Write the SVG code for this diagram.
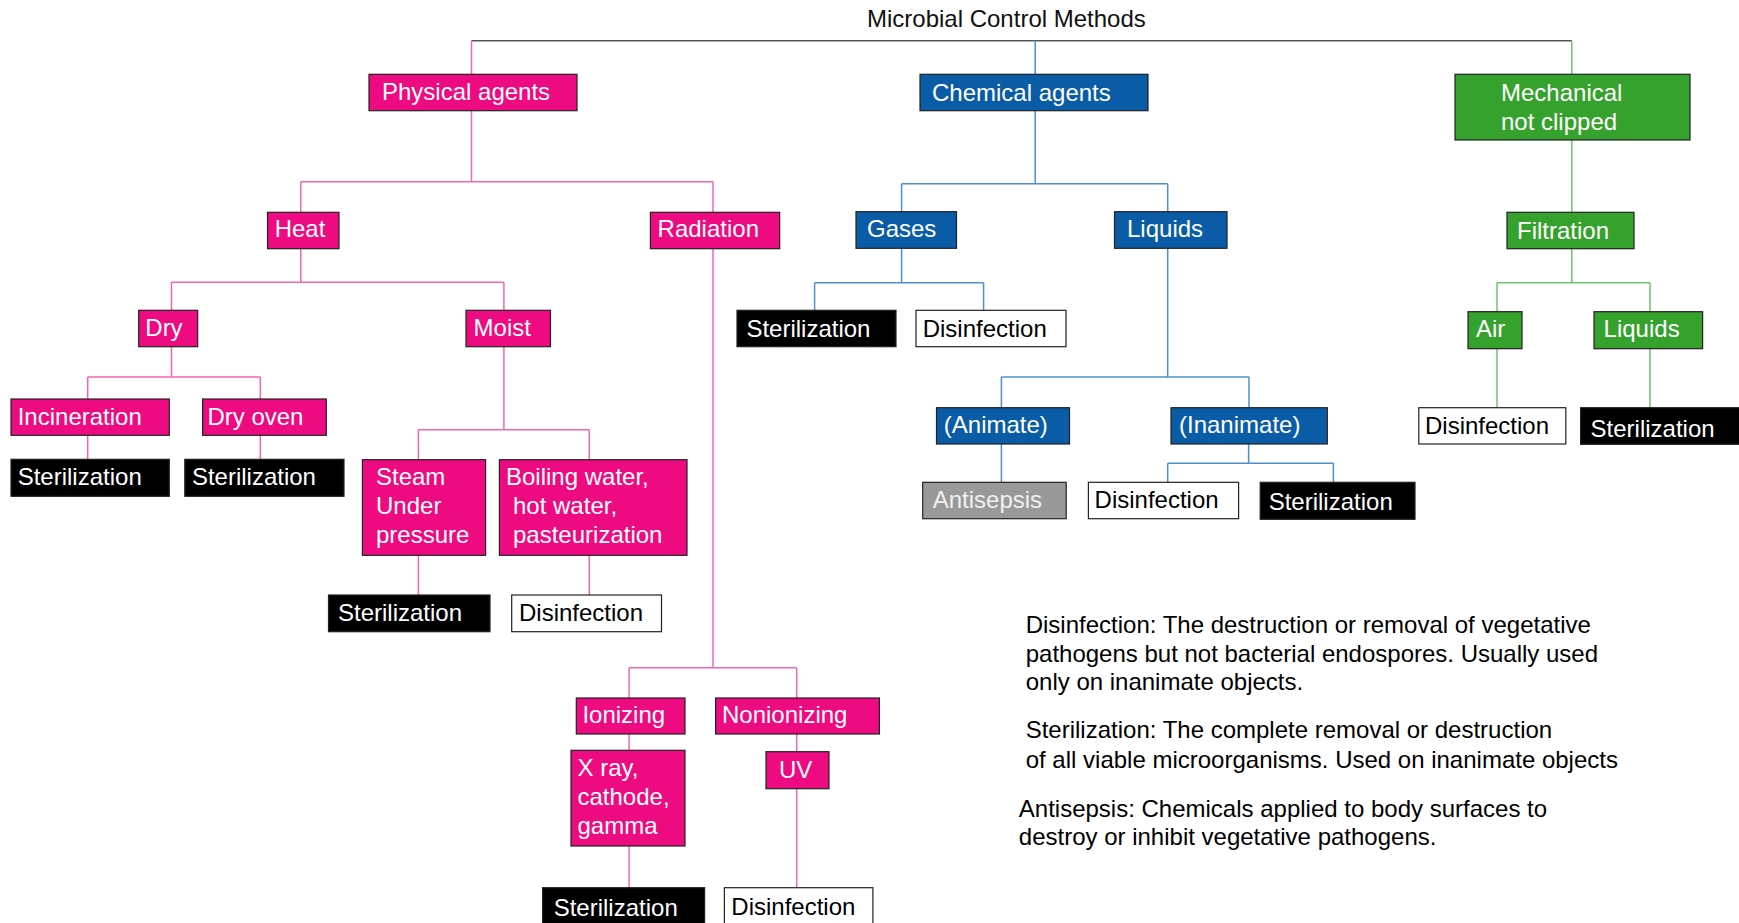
<svg xmlns="http://www.w3.org/2000/svg" width="1739" height="923" viewBox="0 0 1739 923">
<style>
text{font-family:"Liberation Sans",Arial,sans-serif;font-size:24px}
.n rect{stroke:#222;stroke-width:1.2}
.m rect{fill:#EE0A80}
.b rect{fill:#0B5CA6}
.g rect{fill:#36A22E}
.k rect{fill:#000}
.w rect{fill:#fff}
.y rect{fill:#999}
.m text,.b text,.g text,.k text{fill:#fff}
.y text{fill:#f0f0f0}
.w text{fill:#000}
#connectors path{fill:none;stroke-width:1.5}
.cp{stroke:#F068B0}
.cb{stroke:#4C8FCF}
.cg{stroke:#6CC66C}
.ct{stroke:#555}
.def{fill:#000}
</style>
<g id="connectors">
<path class="ct" d="M471.5,40.7 H1571.8"/>
<path class="cp" d="M471.5,40.7 V74.3 M471.5,110.7 V181.7 M300.8,181.7 H713 M300.8,181.7 V212.3 M713,181.7 V212.3 M300.8,248.7 V282.3 M171.5,282.3 H503.9 M171.5,282.3 V310.3 M503.9,282.3 V310.3 M171.5,346.7 V377 M87.7,377 H260.3 M87.7,377 V399 M260.3,377 V399 M87.7,435.3 V459.3 M260.3,435.3 V459.3 M503.9,346.7 V429.7 M418.4,429.7 H589.3 M418.4,429.7 V459.7 M589.3,429.7 V459.7 M418.4,555.3 V595 M589.3,555.3 V595 M713,248.7 V667.7 M629.1,667.7 H796.7 M629.1,667.7 V698 M796.7,667.7 V698 M629.1,734 V750.3 M629.1,846 V887.7 M796.7,734 V751.7 M796.7,788.7 V887.7"/>
<path class="cb" d="M1035.2,40.7 V74.3 M1035.2,110.7 V183.7 M901.6,183.7 H1167.7 M901.6,183.7 V211.7 M1167.7,183.7 V211.7 M901.6,248.3 V282.7 M814.6,282.7 H983.6 M814.6,282.7 V310.3 M983.6,282.7 V310.3 M1167.7,248.3 V377 M1001.4,377 H1249 M1001.4,377 V407.7 M1249,377 V407.7 M1001.4,444 V482.3 M1248.6,444 V463.3 M1167.7,463.3 H1333.4 M1167.7,463.3 V482.3 M1333.4,463.3 V482.3"/>
<path class="cg" d="M1571.8,40.7 V74.3 M1571.8,140 V212.3 M1571.8,248.7 V282.7 M1497,282.7 H1650 M1497,282.7 V311.7 M1650,282.7 V311.7 M1497,348.7 V407.7 M1650,348.7 V407.7"/>
</g>
<g id="title"><text x="867" y="27" fill="#111">Microbial Control Methods</text></g>
<g id="physical" class="n m"><rect x="369" y="74.3" width="208" height="36.4"/><text x="382" y="100">Physical agents</text></g>
<g id="chemical" class="n b"><rect x="920" y="74.3" width="228" height="36.4"/><text x="932" y="101">Chemical agents</text></g>
<g id="mechanical" class="n g"><rect x="1455" y="74.3" width="235" height="65.7"/><text x="1501" y="100.5">Mechanical</text><text x="1501" y="130">not clipped</text></g>
<g id="heat" class="n m"><rect x="267.5" y="212.3" width="71.5" height="36.4"/><text x="274.7" y="237">Heat</text></g>
<g id="radiation" class="n m"><rect x="650.4" y="212.3" width="129.3" height="36.4"/><text x="657.6" y="237">Radiation</text></g>
<g id="gases" class="n b"><rect x="856" y="211.7" width="100.5" height="36.6"/><text x="867" y="236.7">Gases</text></g>
<g id="chem-liquids" class="n b"><rect x="1114.5" y="211.7" width="112.5" height="36.6"/><text x="1127" y="236.7">Liquids</text></g>
<g id="filtration" class="n g"><rect x="1507" y="212.3" width="127" height="36.4"/><text x="1517" y="239">Filtration</text></g>
<g id="dry" class="n m"><rect x="138.7" y="310.3" width="59" height="36.4"/><text x="145.3" y="336">Dry</text></g>
<g id="moist" class="n m"><rect x="466" y="310.3" width="84.5" height="36.4"/><text x="473.6" y="336">Moist</text></g>
<g id="gases-sterilization" class="n k"><rect x="737" y="310.3" width="159" height="36.4"/><text x="746.4" y="337">Sterilization</text></g>
<g id="gases-disinfection" class="n w"><rect x="916" y="310.3" width="150" height="36.4"/><text x="922.7" y="337">Disinfection</text></g>
<g id="air" class="n g"><rect x="1468" y="311.7" width="54" height="37"/><text x="1476" y="337">Air</text></g>
<g id="filt-liquids" class="n g"><rect x="1594" y="311.7" width="108.6" height="37"/><text x="1603.6" y="337">Liquids</text></g>
<g id="incineration" class="n m"><rect x="11" y="399" width="158.3" height="36.3"/><text x="17.7" y="425">Incineration</text></g>
<g id="dry-oven" class="n m"><rect x="202.6" y="399" width="123.7" height="36.3"/><text x="207.4" y="425">Dry oven</text></g>
<g id="animate" class="n b"><rect x="936.5" y="407.7" width="133" height="36.3"/><text x="943.8" y="433">(Animate)</text></g>
<g id="inanimate" class="n b"><rect x="1171" y="407.7" width="156.3" height="36.3"/><text x="1179" y="433">(Inanimate)</text></g>
<g id="air-disinfection" class="n w"><rect x="1418.8" y="407.7" width="147" height="36.3"/><text x="1425" y="434">Disinfection</text></g>
<g id="liquids-sterilization" class="n k"><rect x="1580.6" y="407.7" width="170" height="36.6"/><text x="1590.6" y="436.7">Sterilization</text></g>
<g id="incineration-sterilization" class="n k"><rect x="11" y="459.3" width="158.3" height="37"/><text x="17.7" y="485">Sterilization</text></g>
<g id="dryoven-sterilization" class="n k"><rect x="184.8" y="459.3" width="159.2" height="37"/><text x="191.9" y="485">Sterilization</text></g>
<g id="steam" class="n m"><rect x="362.4" y="459.7" width="123.2" height="95.6"/><text x="376" y="485">Steam</text><text x="376" y="514">Under</text><text x="376" y="542.5">pressure</text></g>
<g id="boiling" class="n m"><rect x="499.4" y="459.7" width="187.6" height="95.6"/><text x="506" y="485">Boiling water,</text><text x="513" y="514">hot water,</text><text x="513" y="542.5">pasteurization</text></g>
<g id="antisepsis" class="n y"><rect x="922.7" y="482.3" width="143.5" height="36.4"/><text x="932.7" y="508">Antisepsis</text></g>
<g id="inanimate-disinfection" class="n w"><rect x="1088.4" y="482.3" width="150.2" height="36.4"/><text x="1094.6" y="508">Disinfection</text></g>
<g id="inanimate-sterilization" class="n k"><rect x="1260.2" y="482.3" width="154.8" height="37"/><text x="1268.7" y="510">Sterilization</text></g>
<g id="steam-sterilization" class="n k"><rect x="328.5" y="595" width="161.5" height="36.7"/><text x="338" y="621">Sterilization</text></g>
<g id="boiling-disinfection" class="n w"><rect x="511.7" y="595" width="149.8" height="36.7"/><text x="519" y="621">Disinfection</text></g>
<g id="ionizing" class="n m"><rect x="576.3" y="698" width="108.7" height="36"/><text x="582.4" y="723.3">Ionizing</text></g>
<g id="nonionizing" class="n m"><rect x="715.6" y="698" width="163.8" height="36"/><text x="722" y="723.3">Nonionizing</text></g>
<g id="xray" class="n m"><rect x="571" y="750.3" width="114" height="95.7"/><text x="577.5" y="776">X ray,</text><text x="577.5" y="805">cathode,</text><text x="577.5" y="833.5">gamma</text></g>
<g id="uv" class="n m"><rect x="766" y="751.7" width="63" height="37"/><text x="779" y="778">UV</text></g>
<g id="xray-sterilization" class="n k"><rect x="542.6" y="887.7" width="162" height="40"/><text x="553.7" y="916">Sterilization</text></g>
<g id="uv-disinfection" class="n w"><rect x="724.4" y="887.7" width="148.5" height="40"/><text x="731.3" y="915">Disinfection</text></g>
<g id="definitions">
<text class="def" x="1025.7" y="633.3">Disinfection: The destruction or removal of vegetative</text>
<text class="def" x="1025.7" y="661.7">pathogens but not bacterial endospores. Usually used</text>
<text class="def" x="1025.7" y="690">only on inanimate objects.</text>
<text class="def" x="1025.7" y="738.3">Sterilization: The complete removal or destruction</text>
<text class="def" x="1025.7" y="767.7">of all viable microorganisms. Used on inanimate objects</text>
<text class="def" x="1018.8" y="817.3">Antisepsis: Chemicals applied to body surfaces to</text>
<text class="def" x="1018.8" y="845">destroy or inhibit vegetative pathogens.</text>
</g>
</svg>
